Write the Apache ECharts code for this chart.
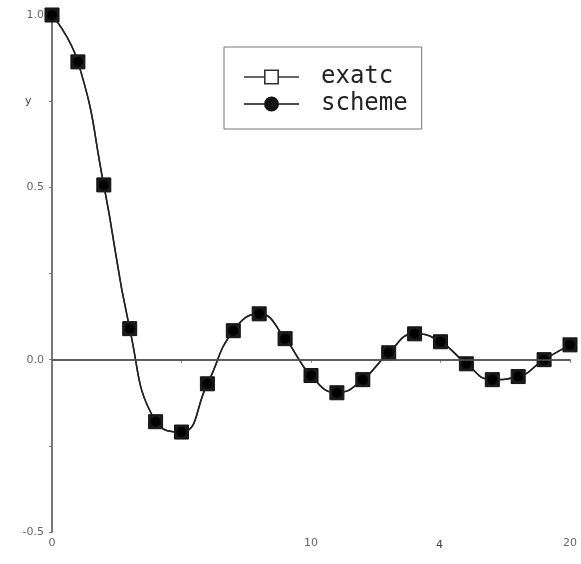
<!DOCTYPE html>
<html><head><meta charset="utf-8">
<script src="https://cdn.jsdelivr.net/npm/echarts@6/dist/echarts.min.js"></script>
<style>html,body{margin:0;padding:0;background:#fff}#c{width:581px;height:564px}</style>
</head><body><div id="c"></div>
<script>
const xValues = [0,1,2,3,4,5,6,7,8,9,10,11,12,13,14,15,16,17,18,19,20];
const exatc  = [1.0,0.864,0.507,0.09,-0.18,-0.21,-0.07,0.084,0.133,0.061,-0.046,-0.096,-0.058,0.02,0.075,0.052,-0.012,-0.058,-0.049,0.0,0.043];
const scheme = [1.0,0.864,0.507,0.09,-0.18,-0.21,-0.07,0.084,0.133,0.061,-0.046,-0.096,-0.058,0.02,0.075,0.052,-0.012,-0.058,-0.049,0.0,0.043];
const yTicks = [-0.5, 0.0, 0.5, 1.0];
const xTicks = [0, 10, 20];

const iconSquare = 'path://M0 7.2H20V8.8H0Z M35 7.2H55V8.8H35Z M20 0.5H35V15.5H20Z M21.6 2.1V13.9H33.4V2.1Z';
const iconCircle = 'path://M0 7.2H20V8.8H0Z M35 7.2H55V8.8H35Z M20 8A7.5 7.5 0 0 1 35 8A7.5 7.5 0 0 1 20 8Z';

const chart = echarts.init(document.getElementById('c'));
const lblFont = {color:'#666', fontSize:11, fontFamily:'DejaVu Sans'};
chart.setOption({
  animation:false,
  backgroundColor:'#fff',
  grid:{left:52, right:11, top:15, bottom:32},
  xAxis:{type:'value', min:0, max:20, interval:10,
    axisLine:{lineStyle:{color:'#777', width:2}},
    axisTick:{show:true, length:3, lineStyle:{color:'#777'}},
    minorTick:{show:true, splitNumber:2, length:3, lineStyle:{color:'#777'}},
    splitLine:{show:false},
    axisLabel:{...lblFont, margin:6, formatter:v=>xTicks.includes(v)?String(v):''}},
  yAxis:{type:'value', min:-0.5, max:1.0, interval:0.5,
    axisLine:{show:true, lineStyle:{color:'#777', width:2}},
    axisTick:{show:true, length:3, lineStyle:{color:'#777'}},
    minorTick:{show:true, splitNumber:2, length:3, lineStyle:{color:'#777'}},
    splitLine:{show:false},
    axisLabel:{...lblFont, margin:8, formatter:v=>yTicks.includes(v)?v.toFixed(1):''}},
  legend:{orient:'vertical', left:224, top:47, itemWidth:55, itemHeight:16, itemGap:3,
    padding:[18,14,13,20], borderColor:'#777', borderWidth:1, backgroundColor:'#fff',
    textStyle:{fontFamily:'DejaVu Sans Mono', fontSize:24, color:'#222', padding:[0,0,0,17]},
    data:[
      {name:'exatc', icon:iconSquare, itemStyle:{color:'#333', borderWidth:0}},
      {name:'scheme', icon:iconCircle, itemStyle:{color:'#111', borderWidth:0}}
    ]},
  series:[
    {name:'exatc', type:'line', smooth:0.5, data:xValues.map((x,i)=>[x,exatc[i]]),
      symbol:'rect', symbolSize:14, lineStyle:{color:'#222', width:1.5},
      itemStyle:{color:'#1a1a1a', borderColor:'#111', borderWidth:1}, z:3,
      markLine:{silent:true, symbol:'none', label:{show:false},
        lineStyle:{color:'#555', width:1.5, type:'solid'}, data:[{yAxis:0}]}},
    {name:'scheme', type:'line', smooth:0.5, data:xValues.map((x,i)=>[x,scheme[i]]),
      symbol:'circle', symbolSize:10, lineStyle:{color:'#222', width:1.5},
      itemStyle:{color:'#000'}, z:4}
  ],
  graphic:[
    {type:'text', left:25, top:96, style:{text:'y', fill:'#444', font:'11px DejaVu Sans'}},
    {type:'text', left:436, top:540, style:{text:'4', fill:'#444', font:'11px DejaVu Sans'}}
  ]
});
</script></body></html>
